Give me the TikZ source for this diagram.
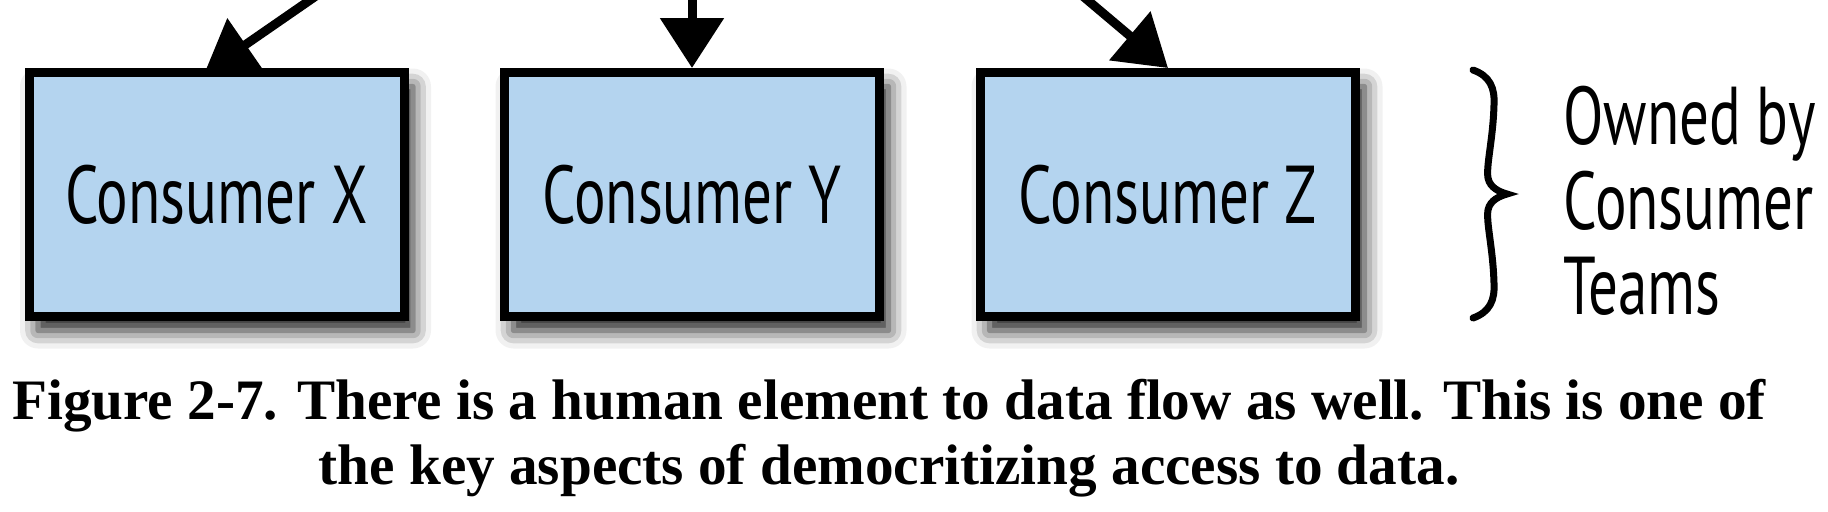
\documentclass[tikz,border=0pt]{standalone}
\usepackage{fontspec}
\usetikzlibrary{arrows.meta,shadows.blur}
\newfontfamily\cfont[FakeStretch=0.72]{PT Sans}
\newfontfamily\capfont{Liberation Serif}
\definecolor{boxblue}{RGB}{180,212,239}
\pgfdeclarelayer{bg}
\pgfsetlayers{bg,main}
\tikzset{
  consumer/.style={draw=black, line width=4.5pt, fill=boxblue, rectangle,
    minimum width=187.5pt, minimum height=122pt, inner sep=0pt,
    font=\cfont\fontsize{41pt}{44pt}\selectfont,
    blur shadow={shadow xshift=4.5pt, shadow yshift=-7pt, shadow blur radius=9pt, shadow opacity=90}},
  flow/.style={line width=4.5pt, -{Triangle[length=25pt,width=31pt]}},
  bracepath/.style={line width=3.5pt, line cap=round},
  sidelabel/.style={inner sep=0pt, align=left, font=\cfont\fontsize{41pt}{42.5pt}\selectfont},
  caption/.style={inner sep=0pt, align=center, font=\capfont\bfseries\fontsize{28.6pt}{32.5pt}\selectfont}
}
\begin{document}
\begin{tikzpicture}[x=0.5pt, y=-0.5pt]
\useasboundingbox (0,0) rectangle (1828,511);
\clip (0,0) rectangle (1828,511);
\node[consumer] (X) at (216.5,194.5) {Consumer X};
\node[consumer] (Y) at (692,194.5) {Consumer Y};
\node[consumer] (Z) at (1168,194.5) {Consumer Z};
\coordinate (sx) at (368,-40);
\coordinate (sy) at (692,-40);
\coordinate (sz) at (1040,-40);
\begin{pgfonlayer}{bg}
\draw[flow] (sx) -- ([xshift=-6pt,yshift=-2.5pt]X.north);
\draw[flow] (sy) -- (Y.north);
\draw[flow] (sz) -- (Z.north);
\end{pgfonlayer}
\draw[bracepath] (1473,70) .. controls (1490,76) and (1495,88) .. (1494,105)
  .. controls (1493,140) and (1486,165) .. (1488,178)
  .. controls (1490,188) and (1500,192) .. (1507,194)
  .. controls (1500,196) and (1490,200) .. (1488,210)
  .. controls (1486,223) and (1493,248) .. (1494,283)
  .. controls (1495,300) and (1490,312) .. (1473,318);
\node[sidelabel, anchor=north west] (own) at (1563,86) {Owned by\\Consumer\\Teams};
\node[caption, anchor=north] (cap) at (889,379) {Figure 2-7. There is a human element to data flow as well. This is one of\\the key aspects of democritizing access to data.};
\end{tikzpicture}
\end{document}
